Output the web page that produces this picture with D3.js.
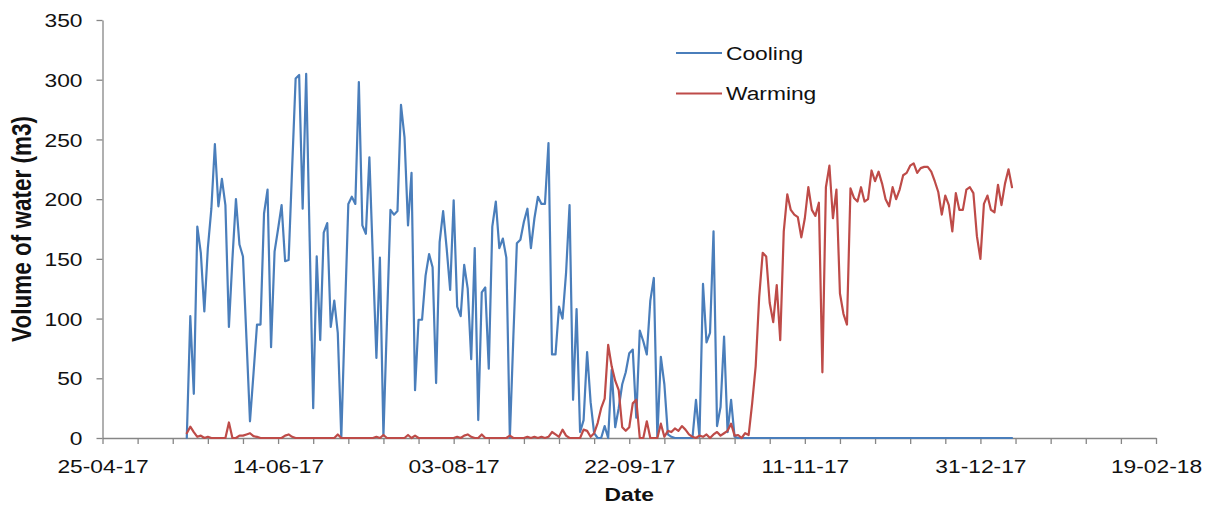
<!DOCTYPE html>
<html>
<head>
<meta charset="utf-8">
<script src="https://cdn.jsdelivr.net/npm/d3@7"></script>
<style>
  body { margin: 0; background: #fff; }
  svg { display: block; }
  text { font-family: "Liberation Sans", Arial, sans-serif; fill: #111; }
</style>
</head>
<body>
<svg id="chart" width="1213" height="510"></svg>
<script>
// Daily volumes of water, one value per day starting at firstDay
const firstDay = "2017-05-19";

const cooling = [
  0, 102, 37, 177, 155, 106, 159, 192, 246, 194,
  217, 195, 93, 150, 200, 162, 152, 83, 14, 54,
  95, 95, 188, 208, 76, 156, 175, 195, 148, 149,
  226, 301, 304, 192, 305, 165, 25, 152, 82, 172,
  180, 93, 115, 88, 0, 100, 196, 202, 196, 298,
  178, 171, 235, 150, 67, 151, 2, 97, 191, 187,
  190, 279, 252, 178, 222, 40, 99, 99, 136, 154,
  143, 46, 164, 190, 159, 124, 199, 110, 102, 145,
  125, 66, 159, 15, 122, 126, 58, 177, 198, 159,
  167, 151, 0, 85, 163, 166, 181, 192, 159, 184,
  202, 196, 196, 247, 70, 70, 110, 100, 138, 195,
  32, 108, 5, 15, 72, 30, 4, 0, 0, 10,
  0, 57, 9, 25, 45, 55, 71, 74, 17, 90,
  81, 70, 115, 134, 1, 68, 45, 3, 1, 0,
  0, 0, 0, 0, 0, 32, 1, 129, 80, 88,
  173, 10, 26, 85, 5, 32, 1, 0, 0, 0,
  0, 0, 0, 0, 0, 0, 0, 0, 0, 0,
  0, 0, 0, 0, 0, 0, 0, 0, 0, 0,
  0, 0, 0, 0, 0, 0, 0, 0, 0, 0,
  0, 0, 0, 0, 0, 0, 0, 0, 0, 0,
  0, 0, 0, 0, 0, 0, 0, 0, 0, 0,
  0, 0, 0, 0, 0, 0, 0, 0, 0, 0,
  0, 0, 0, 0, 0, 0, 0, 0, 0, 0,
  0, 0, 0, 0, 0, 0
];

const warming = [
  4, 9.5, 5, 1, 2, 0, 1, 0, 0, 0,
  0, 0, 13, 0, 0, 2, 2, 3, 4, 1.5,
  1, 0, 0, 0, 0, 0, 0, 0, 2, 3,
  1, 0, 0, 0, 0, 0, 0, 0, 0, 0,
  0, 0, 0, 3, 0, 0, 0, 0, 0, 0,
  0, 0, 0, 0, 1, 0, 2.5, 0, 0, 0,
  0, 0, 0, 2.5, 0, 2, 0, 0, 0, 0,
  0, 0, 0, 0, 0, 0, 0, 1, 0, 2,
  3, 1, 0, 0, 3, 0, 0, 0, 0, 0,
  0, 0, 2, 0, 0, 0, 0, 1, 0, 1,
  0, 1, 0, 1, 5, 3, 1, 7, 2, 0,
  0, 0, 0, 7, 6, 1, 4, 12.5, 25, 33,
  78, 60, 48, 40, 9, 6, 9, 29, 32, 0,
  0, 14, 0, 0, 0, 12, 1, 6, 5, 8,
  6, 10, 7, 3, 1, 0, 2, 1, 3, 0,
  3, 5, 2, 4, 6, 12, 2, 2.5, 0, 4,
  2.5, 29, 60, 118, 155, 152, 113, 97, 128, 82,
  173, 204, 191, 187, 185, 168, 184, 210, 191, 186,
  197, 55, 210, 228, 184, 208, 121, 104, 95, 209,
  201, 198, 210, 198, 200, 224, 215, 223, 213, 200,
  194, 210, 200, 208, 220, 222, 228, 230, 222, 226,
  227, 227, 223, 215, 206, 187, 203, 195, 173, 205,
  191, 191, 208, 210, 205, 169, 150, 196, 203, 191,
  189, 212, 195, 213, 225, 210
];

const seriesNames = ["Cooling", "Warming"];
const yTicks = [0, 50, 100, 150, 200, 250, 300, 350];
const xTickLabels = ["25-04-17", "14-06-17", "03-08-17", "22-09-17", "11-11-17", "31-12-17", "19-02-18"];
const xTitle = "Date";
const yTitle = "Volume of water (m3)";

// ---- layout & style ----
const colors = { Cooling: "#4A7EBB", Warming: "#BE4B48" };
const axisColor = "#868686";
const plot = { left: 102.5, right: 1156, top: 20, bottom: 438 };
const stretch = 1.2;          // labels are set slightly wide
const labelSize = 19;

const svg = d3.select("#chart");

const parseLabel = d3.utcParse("%d-%m-%y");
const xStart = parseLabel(xTickLabels[0]);
const xEnd = parseLabel(xTickLabels[xTickLabels.length - 1]);

const x = d3.scaleUtc().domain([xStart, xEnd]).range([plot.left, plot.right]);
const y = d3.scaleLinear().domain([0, 350]).range([plot.bottom, plot.top]);

const t0 = d3.utcParse("%Y-%m-%d")(firstDay);
const toPoints = vals => vals.map((v, i) => ({ date: d3.utcDay.offset(t0, i), value: v }));
const series = [
  { name: seriesNames[0], points: toPoints(cooling) },
  { name: seriesNames[1], points: toPoints(warming) }
];

// ---- axes ----
const totalDays = d3.utcDay.count(xStart, xEnd);
const minorDates = d3.range(0, totalDays + 1, 10).map(k => d3.utcDay.offset(xStart, k));
const majorSet = new Set(xTickLabels.map(l => +parseLabel(l)));

const xAxis = d3.axisBottom(x)
  .tickValues(minorDates)
  .tickSize(6)
  .tickSizeOuter(0)
  .tickFormat(d => majorSet.has(+d) ? d3.utcFormat("%d-%m-%y")(d) : "");

const gx = svg.append("g")
  .attr("transform", `translate(0,${plot.bottom})`)
  .call(xAxis);
gx.select(".domain").attr("stroke", axisColor).attr("stroke-width", 1.3);
gx.selectAll(".tick line").attr("stroke", axisColor).attr("stroke-width", 1.3);
gx.selectAll(".tick text")
  .attr("y", 0).attr("dy", 0)
  .attr("transform", `translate(0,35) scale(${stretch},1)`)
  .attr("font-size", labelSize)
  .attr("font-family", "Liberation Sans, Arial, sans-serif")
  .attr("fill", "#111");

const yAxis = d3.axisLeft(y)
  .tickValues(yTicks)
  .tickSize(6)
  .tickSizeOuter(0);

const gy = svg.append("g")
  .attr("transform", `translate(${plot.left},0)`)
  .call(yAxis);
gy.select(".domain").attr("stroke", axisColor).attr("stroke-width", 1.3);
gy.selectAll(".tick line").attr("stroke", axisColor).attr("stroke-width", 1.3);
gy.selectAll(".tick text")
  .attr("x", 0).attr("dy", "0.35em")
  .attr("text-anchor", "end")
  .attr("transform", `translate(-20,0) scale(${stretch},1)`)
  .attr("font-size", labelSize)
  .attr("font-family", "Liberation Sans, Arial, sans-serif")
  .attr("fill", "#111");

// ---- axis titles ----
svg.append("text")
  .attr("transform", `translate(${(plot.left + plot.right) / 2},501) scale(${stretch},1)`)
  .attr("text-anchor", "middle")
  .attr("font-size", labelSize)
  .attr("font-weight", "bold")
  .text(xTitle);

svg.append("text")
  .attr("transform", `translate(31,${(plot.top + plot.bottom) / 2}) rotate(-90) scale(1,${stretch})`)
  .attr("text-anchor", "middle")
  .attr("font-size", 22.5)
  .attr("font-weight", "bold")
  .text(yTitle);

// ---- lines ----
const line = d3.line()
  .x(d => x(d.date))
  .y(d => y(d.value));

svg.append("g")
  .selectAll("path")
  .data(series)
  .join("path")
  .attr("d", d => line(d.points))
  .attr("fill", "none")
  .attr("stroke", d => colors[d.name])
  .attr("stroke-width", 2.2)
  .attr("stroke-linejoin", "round")
  .attr("stroke-linecap", "round");

// ---- legend ----
const legend = svg.append("g").attr("transform", "translate(676,53)");
const items = legend.selectAll("g")
  .data(seriesNames)
  .join("g")
  .attr("transform", (d, i) => `translate(0,${i * 40.5})`);
items.append("line")
  .attr("x1", 0).attr("x2", 46)
  .attr("stroke", d => colors[d])
  .attr("stroke-width", 2.2);
items.append("text")
  .attr("transform", `translate(50,0) scale(${stretch},1)`)
  .attr("dy", "0.35em")
  .attr("font-size", labelSize)
  .text(d => d);
</script>
</body>
</html>
